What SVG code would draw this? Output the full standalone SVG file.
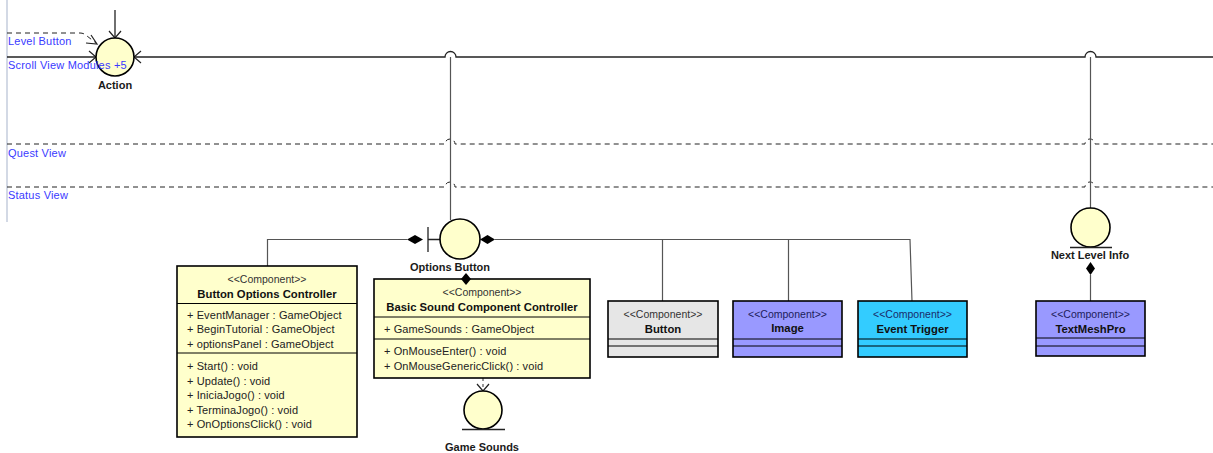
<svg xmlns="http://www.w3.org/2000/svg" width="1213" height="453" viewBox="0 0 1213 453">
  <style>
    text { font-family: "Liberation Sans", Arial, sans-serif; }
    .lane { font-size: 11px; fill: #3a3aff; letter-spacing: 0.2px; }
    .lbl { font-size: 11px; font-weight: bold; fill: #1a1a1a; text-anchor: middle; }
    .st { font-size: 10.5px; fill: #333; text-anchor: middle; }
    .nm { font-size: 11.3px; font-weight: bold; fill: #111; text-anchor: middle; }
    .mb { font-size: 11px; fill: #222; letter-spacing: 0.1px; }
    .box { stroke: #000; stroke-width: 1.6; }
    .sep { stroke: #000; stroke-width: 1; }
    .robust { fill: #ffffcc; stroke: #000; stroke-width: 1.6; }
    .conn { fill: none; stroke: #555; stroke-width: 1.2; }
    .dark { fill: none; stroke: #222; stroke-width: 1.3; }
    .bound { fill: none; stroke: #222; stroke-width: 1; stroke-dasharray: 5 4; }
    .open { fill: none; stroke: #222; stroke-width: 1.2; }
    .dia { fill: #000; }
  </style>

  <!-- lane frame and partitions -->
  <g id="lanes">
    <line x1="7" y1="0" x2="7" y2="222" stroke="#c5ccdc" stroke-width="1.5"/>
    <path class="bound" d="M7 144 H445 A5 5 0 0 1 455 144 H1085 A5 5 0 0 1 1095 144 H1213"/>
    <path class="bound" d="M7 187 H445 A5 5 0 0 1 455 187 H1085 A5 5 0 0 1 1095 187 H1213"/>
  </g>

  <!-- connectors -->
  <g id="connectors">
    <!-- into Action -->
    <line class="dark" x1="115" y1="10" x2="115" y2="38"/>
    <path class="open" d="M109 31 L115 38 L121 31"/>
    <line class="dark" x1="7" y1="57" x2="96" y2="57"/>
    <path class="open" d="M89 51 L96 57 L89 63"/>
    <path class="dark" d="M134 57 H445 A5.5 5.5 0 0 1 456 57 H1085 A5.5 5.5 0 0 1 1096 57 H1213"/>
    <path class="open" d="M141 51 L134 57 L141 63"/>
    <path class="bound" d="M7 33 H80 Q84 33 87 36 L96 43"/>
    <path class="open" d="M86 43 L97 44 L91 35"/>

    <!-- Action line down to Options Button and Next Level Info -->
    <line class="conn" x1="450.5" y1="57" x2="450.5" y2="220"/>
    <line class="conn" x1="1090.5" y1="57" x2="1090.5" y2="208"/>

    <!-- Options Button compositions -->
    <path class="conn" d="M407 239.5 H267.5 V266"/>
    <path class="dia" d="M407 239.5 L415 235 L423 239.5 L415 244 Z"/>
    <path class="conn" d="M495 239.5 H910 L912 301"/>
    <path class="conn" d="M662.5 239.5 V301 M788.5 239.5 V301"/>
    <path class="dia" d="M480 239.5 L487.5 235 L495 239.5 L487.5 244 Z"/>

    <!-- Basic Sound controller uses Game Sounds -->
    <line class="conn" x1="483" y1="378" x2="483" y2="391" stroke-dasharray="3 3"/>
    <path class="open" d="M477 384 L483 391 L489 384"/>

    <!-- Next Level Info composition -->
    <line class="conn" x1="1090.5" y1="275" x2="1090.5" y2="301"/>
    <path class="dia" d="M1090.5 262 L1095 268.5 L1090.5 275 L1086 268.5 Z"/>
  </g>

  <g id="action">
    <circle class="robust" cx="115" cy="57" r="19"/>
    <text class="lbl" x="115" y="89">Action</text>
  </g>

  <g id="options-button">
    <path class="dark" d="M428 227 V252 M428 239.5 H441"/>
    <circle class="robust" cx="460" cy="239" r="20"/>
    <text class="lbl" x="450" y="271">Options Button</text>
  </g>

  <g id="next-level-info">
    <circle class="robust" cx="1090.5" cy="227.5" r="19.5"/>
    <line class="dark" x1="1070" y1="247.5" x2="1112" y2="247.5"/>
    <text class="lbl" x="1090" y="259">Next Level Info</text>
  </g>

  <g id="game-sounds">
    <circle class="robust" cx="483" cy="410" r="19"/>
    <line class="dark" x1="462" y1="429.5" x2="505" y2="429.5"/>
    <text class="lbl" x="482" y="451">Game Sounds</text>
  </g>

  <g id="button-options-controller">
    <rect class="box" x="177" y="266" width="180" height="171" fill="#ffffcc"/>
    <line class="sep" x1="177" y1="303.5" x2="357" y2="303.5"/>
    <line class="sep" x1="177" y1="353" x2="357" y2="353"/>
    <text class="st" x="267" y="283">&lt;&lt;Component&gt;&gt;</text>
    <text class="nm" x="267" y="298">Button Options Controller</text>
    <text class="mb" x="187" y="319">+ EventManager : GameObject</text>
    <text class="mb" x="187" y="333">+ BeginTutorial : GameObject</text>
    <text class="mb" x="187" y="348">+ optionsPanel : GameObject</text>
    <text class="mb" x="187" y="370">+ Start() : void</text>
    <text class="mb" x="187" y="385">+ Update() : void</text>
    <text class="mb" x="187" y="399">+ IniciaJogo() : void</text>
    <text class="mb" x="187" y="414">+ TerminaJogo() : void</text>
    <text class="mb" x="187" y="428">+ OnOptionsClick() : void</text>
  </g>

  <g id="basic-sound-component-controller">
    <rect class="box" x="374" y="279" width="216" height="99" fill="#ffffcc"/>
    <line class="sep" x1="374" y1="317" x2="590" y2="317"/>
    <line class="sep" x1="374" y1="339" x2="590" y2="339"/>
    <text class="st" x="482" y="296">&lt;&lt;Component&gt;&gt;</text>
    <text class="nm" x="482" y="311">Basic Sound Component Controller</text>
    <text class="mb" x="384" y="333">+ GameSounds : GameObject</text>
    <text class="mb" x="384" y="355">+ OnMouseEnter() : void</text>
    <text class="mb" x="384" y="370">+ OnMouseGenericClick() : void</text>
  </g>

  <!-- composition end from Options Button onto the sound controller -->
  <path class="dia" d="M466 273 L471 279 L466 285 L461 279 Z"/>

  <g id="button">
    <rect class="box" x="608" y="301" width="110" height="56" fill="#e6e6e6"/>
    <line class="sep" x1="608" y1="339" x2="718" y2="339"/>
    <line class="sep" x1="608" y1="346" x2="718" y2="346"/>
    <text class="st" x="663" y="318">&lt;&lt;Component&gt;&gt;</text>
    <text class="nm" x="663" y="333">Button</text>
  </g>

  <g id="image">
    <rect class="box" x="733" y="301" width="109" height="56" fill="#9999ff"/>
    <line class="sep" x1="733" y1="339" x2="842" y2="339"/>
    <line class="sep" x1="733" y1="346" x2="842" y2="346"/>
    <text class="st" x="787.5" y="318" style="fill:#1c1c5a">&lt;&lt;Component&gt;&gt;</text>
    <text class="nm" x="787.5" y="332">Image</text>
  </g>

  <g id="event-trigger">
    <rect class="box" x="858" y="301" width="109" height="56" fill="#33ccff"/>
    <line class="sep" x1="858" y1="339" x2="967" y2="339"/>
    <line class="sep" x1="858" y1="346" x2="967" y2="346"/>
    <text class="st" x="912.5" y="318" style="fill:#1a2a6a">&lt;&lt;Component&gt;&gt;</text>
    <text class="nm" x="912.5" y="333">Event Trigger</text>
  </g>

  <g id="textmeshpro">
    <rect class="box" x="1036" y="301" width="109" height="55" fill="#9999ff"/>
    <line class="sep" x1="1036" y1="338" x2="1145" y2="338"/>
    <line class="sep" x1="1036" y1="346" x2="1145" y2="346"/>
    <text class="st" x="1090.5" y="318" style="fill:#1c1c5a">&lt;&lt;Component&gt;&gt;</text>
    <text class="nm" x="1090.5" y="333">TextMeshPro</text>
  </g>

  <!-- lane names sit above everything else -->
  <g id="lane-labels">
    <text class="lane" x="8" y="45">Level Button</text>
    <text class="lane" x="8" y="69">Scroll View Modules <tspan x="114">+5</tspan></text>
    <text class="lane" x="8" y="157">Quest View</text>
    <text class="lane" x="8" y="199">Status View</text>
  </g>
</svg>
